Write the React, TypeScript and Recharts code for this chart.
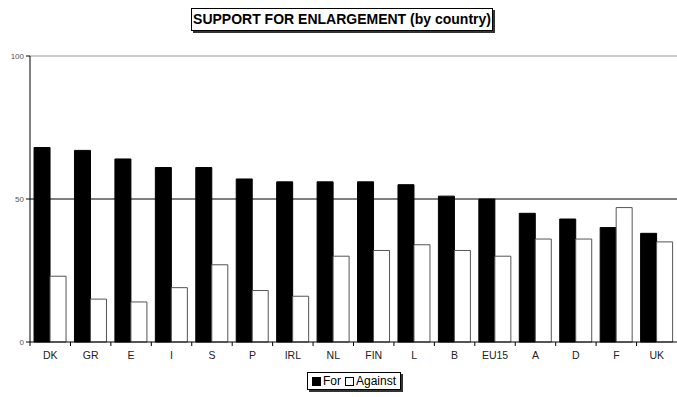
import { BarChart, Bar, XAxis, YAxis, ReferenceLine, Legend } from "recharts";

const countries = ["DK", "GR", "E", "I", "S", "P", "IRL", "NL", "FIN", "L", "B", "EU15", "A", "D", "F", "UK"];
const forValues = [68, 67, 64, 61, 61, 57, 56, 56, 56, 55, 51, 50, 45, 43, 40, 38];
const againstValues = [23, 15, 14, 19, 27, 18, 16, 30, 32, 34, 32, 30, 36, 36, 47, 35];
const yTicks = [0, 50, 100];

const series = [
  { key: "for", name: "For", fill: "#000", stroke: "#000" },
  { key: "against", name: "Against", fill: "#fff", stroke: "#555" },
];

const data = countries.map((c, i) => ({
  country: c,
  for: forValues[i],
  against: againstValues[i],
}));

const W = 677;
const H = 397;
const AXIS_W = 30;
const FONT = "'Liberation Sans', Arial, sans-serif";

const CountryTick = (props: any) => {
  const { x, y, payload } = props;
  const half = (W - AXIS_W) / countries.length / 2;
  return (
    <g>
      <line x1={x - half} y1={y} x2={x - half} y2={y + 4} stroke="#000" />
      <text x={x} y={y + 17} textAnchor="middle" fontSize={10.5} fill="#222" fontFamily={FONT}>
        {payload.value}
      </text>
    </g>
  );
};

const LegendBox = () => (
  <div
    style={{
      border: "1px solid #000",
      boxShadow: "2px 2px 0 #333",
      background: "#fff",
      padding: "1px 4px",
      fontSize: 12,
      fontFamily: FONT,
      display: "flex",
      alignItems: "center",
      gap: 4,
      whiteSpace: "nowrap",
    }}
  >
    {series.map((s) => (
      <span key={s.key} style={{ display: "flex", alignItems: "center", gap: 2 }}>
        <span
          style={{
            display: "inline-block",
            width: 9,
            height: 9,
            background: s.fill,
            border: "1px solid #000",
            boxSizing: "border-box",
          }}
        />
        {s.name}
      </span>
    ))}
  </div>
);

export default function App() {
  return (
    <div style={{ position: "relative", width: W, height: H, background: "#fff" }}>
      <style>{`body{margin:0}`}</style>
      <div
        style={{
          position: "absolute",
          left: 191,
          top: 8,
          width: 300,
          height: 21,
          border: "1px solid #000",
          boxShadow: "2px 2px 0 #333",
          background: "#fff",
          fontFamily: FONT,
          fontWeight: "bold",
          fontSize: 14,
          lineHeight: "21px",
          textAlign: "center",
          zIndex: 2,
        }}
      >
        SUPPORT FOR ENLARGEMENT (by country)
      </div>
      <BarChart
        width={W}
        height={H}
        data={data}
        margin={{ top: 56, right: 0, left: 0, bottom: 0 }}
        barCategoryGap="10%"
        barGap={0}
      >
        <XAxis
          dataKey="country"
          height={55}
          tickLine={false}
          tickSize={0}
          tickMargin={0}
          axisLine={{ stroke: "#000" }}
          tick={<CountryTick />}
          interval={0}
        />
        <YAxis
          width={AXIS_W}
          domain={[0, 100]}
          ticks={yTicks}
          tickSize={4}
          tickMargin={2}
          axisLine={{ stroke: "#000" }}
          tickLine={{ stroke: "#000" }}
          tick={{ fontSize: 8, fill: "#555", fontFamily: FONT }}
        />
        <ReferenceLine y={100} stroke="#999" />
        <ReferenceLine y={50} stroke="#000" />
        {series.map((s) => (
          <Bar
            key={s.key}
            dataKey={s.key}
            name={s.name}
            fill={s.fill}
            stroke={s.stroke}
            strokeWidth={1}
            isAnimationActive={false}
          />
        ))}
        <Legend
          verticalAlign="middle"
          align="center"
          layout="horizontal"
          content={<LegendBox />}
          wrapperStyle={{ position: "absolute", left: 307, top: 372, width: "auto" }}
        />
      </BarChart>
    </div>
  );
}
